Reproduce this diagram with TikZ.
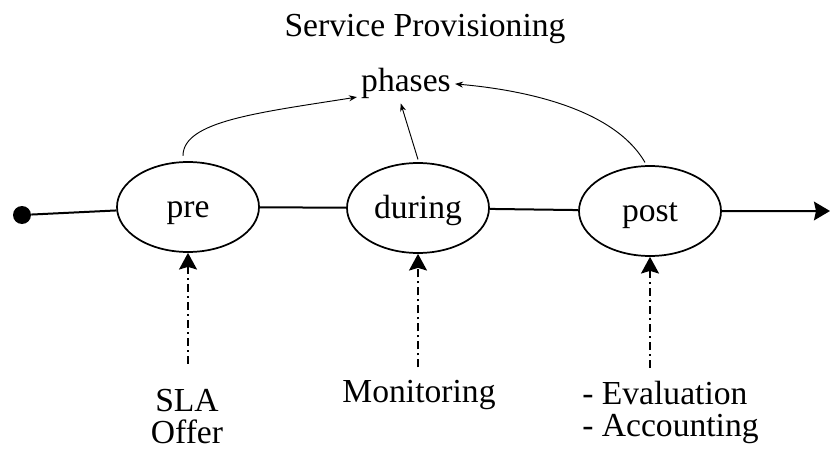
\documentclass[tikz,border=0pt]{standalone}
\usepackage{fontspec}
\setmainfont{Liberation Serif}
\usetikzlibrary{shapes.geometric,arrows.meta}

\tikzset{
  lbl/.style={inner sep=0pt, font=\fontsize{25.2}{24}\selectfont},
  phase/.style={lbl, ellipse, draw, line width=1.3pt, minimum width=106.5pt, minimum height=67.5pt,
    text height=19pt, text depth=3.8pt},
  flow/.style={line width=1.3pt, dash pattern=on 6pt off 3pt on 1.5pt off 3pt,
    -{Stealth[length=12.5pt,width=13.5pt,inset=2pt]}},
  toph/.style={line width=0.7pt, -{Stealth[length=6pt,width=4.5pt]}},
}

\begin{document}
\begin{tikzpicture}[x=0.75pt,y=-0.75pt]
  \useasboundingbox (0,0) rectangle (831,449);

  \node[lbl, anchor=base] (title) at (425,37) {Service Provisioning};
  \node[lbl, anchor=base, inner sep=3pt] (phases) at (406,92) {phases};

  % the three phases on the time line
  \node[circle, fill, inner sep=0pt, minimum size=13.5pt] (start) at (22,215) {};
  \node[phase] (pre) at (188,207) {pre};
  \node[phase] (during) at (418,208) {during};
  \node[phase] (post) at (650,211) {post};
  \coordinate (end) at (830,211);

  \draw[line width=1.5pt, -{Stealth[length=12pt,width=14pt,inset=1.5pt]}]
    (start) -- (pre) -- (during) -- (post) -- (end);

  % what happens in each phase
  \node[lbl, align=center, anchor=north] (sla) at (187,389) {SLA\\Offer};
  \node[lbl, anchor=base] (mon) at (419,402) {Monitoring};
  \node[lbl, align=left, anchor=north west] (eval) at (582,381) {- Evaluation\\- Accounting};

  \draw[flow, shorten <=19pt] (sla.north -| pre.south) -- (pre.south);
  \draw[flow, shorten <=9pt] (mon.north -| during.south) -- (during.south);
  \draw[flow, shorten <=10pt] (eval.north -| post.south) -- (post.south);

  \draw[toph] ([xshift=-3.75pt,yshift=4pt]pre.north)
    to[out=90, in=189, out distance=26pt, in distance=75pt] (phases.195);
  \draw[toph] ([yshift=2pt]during.north) -- (phases.255);
  \draw[toph] ([xshift=-3.75pt,yshift=2pt]post.north)
    to[out=120, in=-5, looseness=0.8] (phases.east);
\end{tikzpicture}
\end{document}
